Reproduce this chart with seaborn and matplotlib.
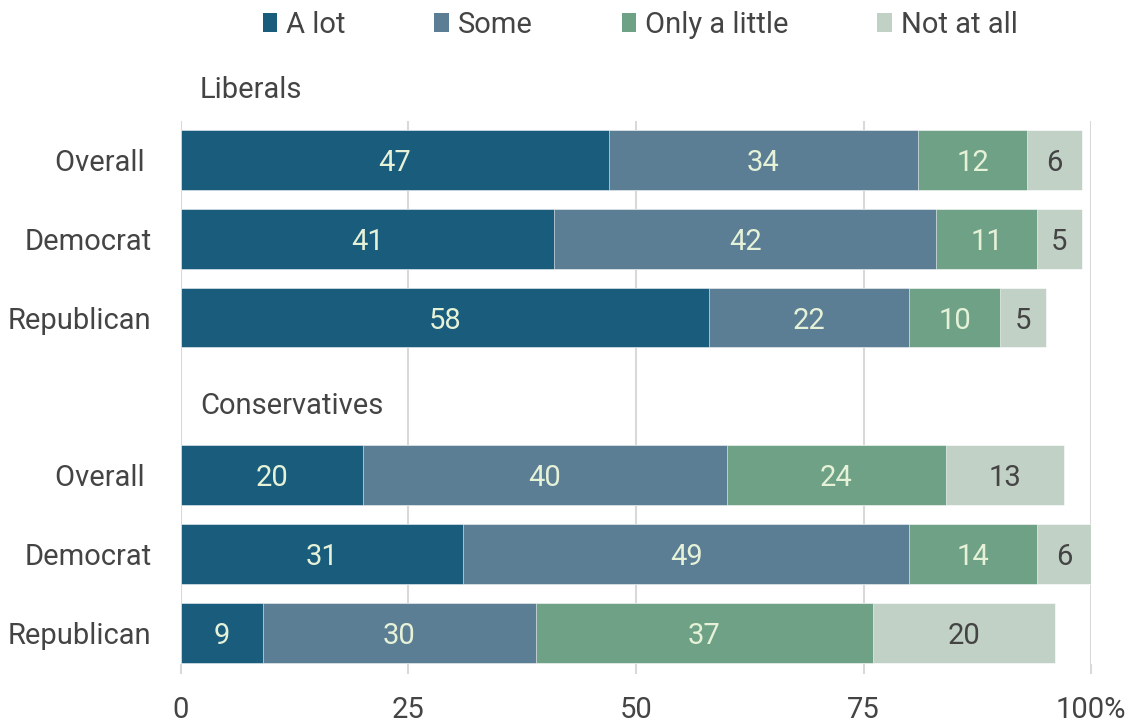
import matplotlib
matplotlib.use("Agg")
import matplotlib.pyplot as plt
import seaborn as sns
import numpy as np
import pandas as pd
from matplotlib.patches import Patch

groups = ["Liberals", "Conservatives"]
rows = ["Overall ", "Democrat", "Republican", "Overall ", "Democrat", "Republican"]
series = ["A lot", "Some", "Only a little", "Not at all"]
a_lot = [47, 41, 58, 20, 31, 9]
some = [34, 42, 22, 40, 49, 30]
only_little = [12, 11, 10, 24, 14, 37]
not_at_all = [6, 5, 5, 13, 6, 20]
xticks = [0, 25, 50, 75, 100]
xticklabels = ["0", "25", "50", "75", "100%"]

colors = ["#195c7b", "#5b7e95", "#6ea185", "#c1d1c6"]
text_colors = ["#e6f2d8", "#e6f2d8", "#e6f2d8", "#444444"]

positions = [1, 2, 3, 5, 6, 7]
header_pos = [0.08, 4.08]
FS = 21

sns.set_theme(style="white")
plt.rcParams["font.family"] = ["Roboto", "DejaVu Sans"]

fig = plt.figure(figsize=(11.45, 7.22), dpi=100)
ax = fig.add_axes([0.158, 0.080, 0.795, 0.753])

vals = np.array([a_lot, some, only_little, not_at_all], dtype=float)
cum = np.cumsum(vals, axis=0)

# draw cumulative totals from largest to smallest so each segment shows
for i in range(len(series) - 1, -1, -1):
    df = pd.DataFrame({"x": cum[i], "y": positions})
    sns.barplot(data=df, x="x", y="y", orient="h", native_scale=True,
                color=colors[i], saturation=1, width=0.76, ax=ax,
                edgecolor="#ffffff", linewidth=0.4, zorder=2)

for i in range(len(series)):
    for j, p in enumerate(positions):
        start = cum[i][j] - vals[i][j]
        ax.text(start + vals[i][j] / 2, p, f"{int(vals[i][j])}",
                ha="center", va="center_baseline", fontsize=FS,
                color=text_colors[i], zorder=5)

for g, hp in zip(groups, header_pos):
    ax.text(2.1, hp, g, ha="left", va="center_baseline", fontsize=FS,
            color="#444444", clip_on=False)

ax.set_xlim(0, 100)
ax.set_ylim(7.4, 0.5)
ax.set_xticks(xticks)
ax.set_xticklabels(xticklabels, fontsize=FS, color="#444444")
ax.set_yticks(positions)
ax.set_yticklabels(rows, fontsize=FS, color="#444444")
ax.set_xlabel("")
ax.set_ylabel("")
ax.xaxis.grid(True, color="#d9d9d9", linewidth=1.5, zorder=0)
ax.set_axisbelow(True)
for s in ax.spines.values():
    s.set_visible(False)
ax.tick_params(axis="x", length=7, width=1.5, color="#d9d9d9", pad=16, bottom=True)
ax.tick_params(axis="y", length=0, pad=21)

handles = [Patch(facecolor=c, edgecolor="none") for c in colors]
fig.legend(handles, series, loc="center", bbox_to_anchor=(0.559, 0.966), ncol=4,
           frameon=False, fontsize=FS, handlelength=0.5, handleheight=0.6,
           handletextpad=0.3, columnspacing=3.05, labelcolor="#444444")

fig.savefig("out.png", dpi=100)
